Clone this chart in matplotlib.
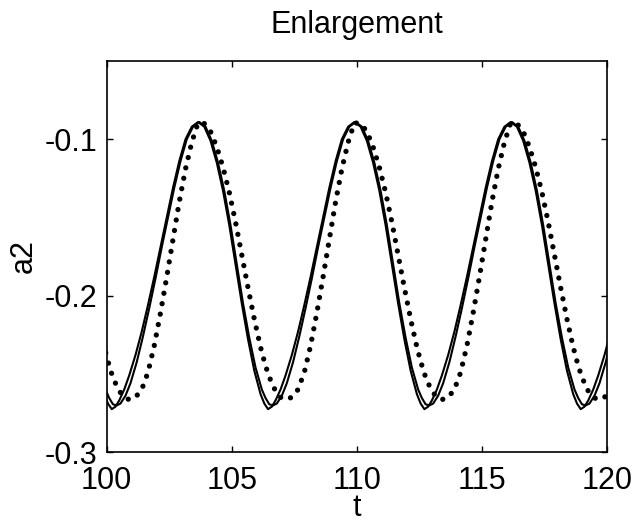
import matplotlib
matplotlib.use('Agg')
import matplotlib.pyplot as plt
import numpy as np

plt.rcParams['font.family'] = ['Liberation Sans', 'DejaVu Sans']
plt.rcParams['axes.unicode_minus'] = False

# times of the peaks of the solid curves
peaks = [97.4, 103.65, 109.9, 116.15, 122.4]

# one oscillation, offsets from each peak (t units)
cycle_dt = [0, 0.25, 0.5, 0.75, 1.0, 1.25, 1.5, 1.75, 2.0, 2.25, 2.5, 2.65, 2.8,
            2.95, 3.1, 3.3, 3.5, 3.75, 4.0, 4.25, 4.5, 4.75, 5.0, 5.25, 5.5, 5.75, 6.0]

# first solid curve
a2_sol1 = [-0.089, -0.092, -0.101, -0.115, -0.133, -0.155, -0.180, -0.205, -0.228,
           -0.248, -0.263, -0.269, -0.2726, -0.271, -0.267, -0.260, -0.251, -0.238,
           -0.223, -0.206, -0.188, -0.169, -0.150, -0.131, -0.114, -0.100, -0.092]
# second solid curve (minimum a bit later and higher)
a2_sol2 = [-0.089, -0.092, -0.101, -0.115, -0.133, -0.155, -0.180, -0.205, -0.227,
           -0.246, -0.260, -0.2655, -0.2695, -0.2702, -0.269, -0.264, -0.256, -0.2425,
           -0.226, -0.208, -0.189, -0.169, -0.150, -0.131, -0.114, -0.100, -0.092]
# dotted curve
a2_dot = [-0.0895, -0.0900, -0.095, -0.105, -0.118, -0.134, -0.153, -0.174, -0.195,
          -0.215, -0.233, -0.242, -0.250, -0.256, -0.261, -0.265, -0.2665, -0.265,
          -0.260, -0.249, -0.232, -0.211, -0.188, -0.164, -0.140, -0.119, -0.102]


def build(vals, shift=0.0):
    t = np.concatenate([p + shift + np.array(cycle_dt) for p in peaks])
    y = np.tile(vals, len(peaks))
    return t, y


fig = plt.figure(figsize=(6.36, 5.28), dpi=100)
ax = fig.add_axes([0.1678, 0.1439, 0.7866, 0.7405])

t1, y1 = build(a2_sol1)
t2, y2 = build(a2_sol2, 0.05)
t3, y3 = build(a2_dot)

ax.plot(t1, y1, color='black', lw=1.5)
ax.plot(t2, y2, color='black', lw=1.5)
ax.plot(t3, y3, color='black', lw=3.8, linestyle=(0, (0.01, 2.0)),
        dash_capstyle='round')

ax.set_xlim(100, 120)
ax.set_ylim(-0.3, -0.05)
ax.set_xticks([100, 105, 110, 115, 120])
ax.set_yticks([-0.3, -0.2, -0.1])
ax.set_yticklabels(['-0.3', '-0.2', '-0.1'])
ax.tick_params(direction='in', top=True, right=True, length=4, width=1,
               labelsize=22)
ax.tick_params(axis='x', pad=10)
ax.tick_params(axis='y', pad=7)
for s in ax.spines.values():
    s.set_linewidth(1.2)

ax.set_title('Enlargement', fontsize=22, pad=20)
ax.set_xlabel('t', fontsize=22, labelpad=-2)
ax.set_ylabel('a2', fontsize=22, labelpad=4)

fig.savefig('out.png', dpi=100)
